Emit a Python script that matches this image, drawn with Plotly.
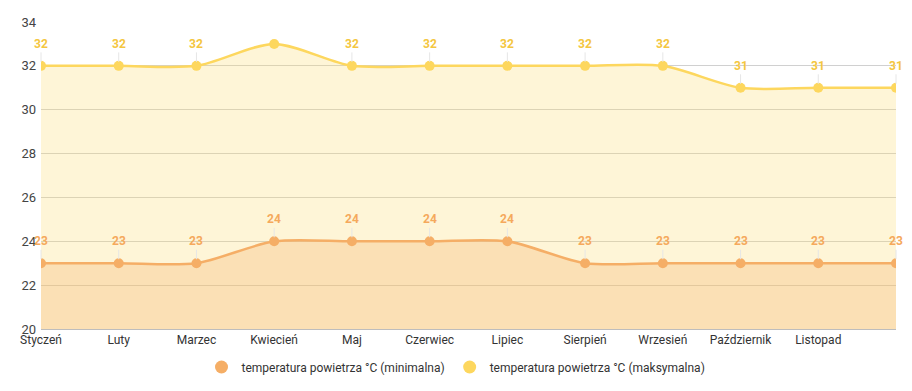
import plotly.graph_objects as go

months = ["Styczeń", "Luty", "Marzec", "Kwiecień", "Maj", "Czerwiec", "Lipiec",
          "Sierpień", "Wrzesień", "Październik", "Listopad", "Grudzień"]
tick_labels = months[:11]
temp_min = [23, 23, 23, 24, 24, 24, 24, 23, 23, 23, 23, 23]
temp_max = [32, 32, 32, 33, 32, 32, 32, 32, 32, 31, 31, 31]
name_min = "temperatura powietrza °C (minimalna)"
name_max = "temperatura powietrza °C (maksymalna)"
y_ticks = [20, 22, 24, 26, 28, 30, 32, 34]

C_MIN = "#f5ae66"
C_MAX = "#fdd75e"
L_MIN = "#f5a95c"
L_MAX = "#f4c640"
Y_MIN, Y_MAX = 20, 34

x = list(range(len(months)))

fig = go.Figure()
fig.add_trace(go.Scatter(
    x=x, y=temp_max, mode="lines+markers", line=dict(color=C_MAX, width=2.5, shape="spline", smoothing=0.8),
    marker=dict(size=10, color=C_MAX), fill="tozeroy", fillcolor="rgba(252,220,110,0.28)",
    showlegend=False, hoverinfo="skip"))
fig.add_trace(go.Scatter(
    x=x, y=temp_min, mode="lines+markers", line=dict(color=C_MIN, width=2.5, shape="spline", smoothing=0.8),
    marker=dict(size=10, color=C_MIN), fill="tozeroy", fillcolor="rgba(245,174,102,0.3)",
    showlegend=False, hoverinfo="skip"))
# legend entries
fig.add_trace(go.Scatter(x=[None], y=[None], mode="markers", name=name_min,
                         marker=dict(size=13, color=C_MIN)))
fig.add_trace(go.Scatter(x=[None], y=[None], mode="markers", name=name_max,
                         marker=dict(size=13, color=C_MAX)))

annotations = []
for series, col in ((temp_max, L_MAX), (temp_min, L_MIN)):
    for xi, v in zip(x, series):
        if v >= Y_MAX - 1:
            continue
        annotations.append(dict(
            x=xi, y=v, xref="x", yref="y", text=f"<b>{v}</b>", showarrow=True,
            arrowhead=0, arrowwidth=1, arrowcolor="#e6e6e6", ax=0, ay=-22,
            font=dict(family="Roboto", size=12, color=col), standoff=4))

fig.update_layout(
    width=912, height=391,
    margin=dict(l=41, r=16, t=22, b=62, autoexpand=False),
    paper_bgcolor="white", plot_bgcolor="white",
    font=dict(family="Roboto", size=12, color="#333"),
    annotations=annotations,
    legend=dict(orientation="h", x=0.5, xanchor="center", xref="container",
                y=(391 - 367) / 391, yanchor="middle", yref="container",
                font=dict(family="Roboto", size=12, color="#333"), itemwidth=30),
    xaxis=dict(range=[0, len(months) - 1], tickvals=x[:11], ticktext=tick_labels,
               showgrid=False, zeroline=False, showline=True, linecolor="#bdbdbd",
               ticks="", tickfont=dict(size=12, color="#333"), automargin=False),
    yaxis=dict(range=[Y_MIN, Y_MAX], tickvals=y_ticks, showgrid=True, gridcolor="#d0d0d0",
               zeroline=False, showline=False, ticks="", ticklabelstandoff=4,
               tickfont=dict(size=13, color="#444"), automargin=False),
)

fig.write_html("out.html", config={"displayModeBar": False},
               post_script="document.body.style.margin='0';")
